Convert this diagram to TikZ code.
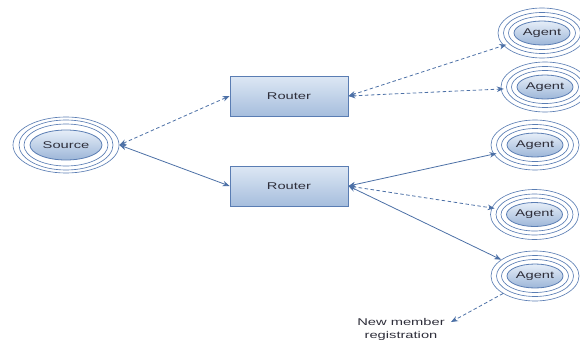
\documentclass[tikz,border=0pt]{standalone}
\usepackage{fontspec}
\setmainfont[FakeStretch=1.5]{Liberation Sans}
\usetikzlibrary{arrows.meta,shapes.geometric}

\definecolor{ringblue}{HTML}{5A7DB3}
\definecolor{lineblue}{HTML}{4C70A6}
\definecolor{filltop}{HTML}{E6EEF8}
\definecolor{fillbot}{HTML}{9DB6D8}
\definecolor{boxtop}{HTML}{DDE7F4}
\definecolor{boxbot}{HTML}{A6BEDD}
\definecolor{txt}{HTML}{2E2E3A}

\tikzset{
  label text/.style={font=\fontsize{9.8}{13}\selectfont, text=txt},
  core/.style={ellipse, draw=ringblue, line width=0.8pt, inner sep=0pt,
    top color=filltop, bottom color=fillbot, label text},
  ring/.style={ellipse, draw=ringblue, line width=0.65pt, inner sep=0pt},
  router/.style={rectangle, draw=ringblue, line width=0.8pt,
    top color=boxtop, bottom color=boxbot, minimum width=118pt,
    minimum height=40pt, inner sep=0pt, label text},
  tip/.tip={Stealth[length=7pt,width=5.5pt]},
  conn/.style={draw=lineblue, line width=0.8pt, tip-tip},
  dashconn/.style={conn, dash pattern=on 3.5pt off 2.5pt},
  into ring/.style={shorten >=-3pt},
}

\begin{document}
\begin{tikzpicture}[x=1pt,y=-1pt]
  \useasboundingbox (0,0) rectangle (580,345);
  \clip (0,0) rectangle (580,345);

  % source with its three surrounding rings
  \node[ring, minimum width=106pt, minimum height=56pt] (src) at (66,145) {};
  \node[ring, minimum width=94pt, minimum height=50pt] (src2) at (66,145) {};
  \node[ring, minimum width=84pt, minimum height=42pt] (src1) at (66,145) {};
  \node[core, minimum width=72pt, minimum height=30pt] (srcc) at (66,145) {Source};

  % routers
  \node[router] (r1) at (289,96) {Router};
  \node[router] (r2) at (289,186) {Router};

  % agents, each with three surrounding rings
  \foreach \n/\x/\y in {a1/542/33, a2/545/87, a3/535/145, a4/534.5/214.5, a5/535/276}{
    \node[ring, minimum width=88pt, minimum height=50pt] (\n) at (\x,\y) {};
    \node[ring, minimum width=77pt, minimum height=41pt] (\n r2) at (\x,\y) {};
    \node[ring, minimum width=67pt, minimum height=33pt] (\n r1) at (\x,\y) {};
    \node[core, minimum width=56pt, minimum height=24pt] (\n c) at (\x,\y) {Agent};
  }

  % registration note
  \node[label text, align=center, inner sep=0pt] (reg) at (401,329) {New member\\registration};
  \coordinate (regtip) at (451,322);

  % connectors
  \draw[dashconn] (src.east) -- (r1.west);
  \draw[conn] (src.east) -- (r2.west);
  \draw[dashconn, into ring] (r1.east) -- (a1);
  \draw[dashconn, into ring] (r1.east) -- (a2);
  \draw[conn, into ring] (r2.east) -- (a3);
  \draw[dashconn, into ring] (r2.east) -- (a4);
  \draw[conn] (r2.east) -- (a5);
  \draw[dashconn, -tip] (a5) -- (regtip);
\end{tikzpicture}
\end{document}
